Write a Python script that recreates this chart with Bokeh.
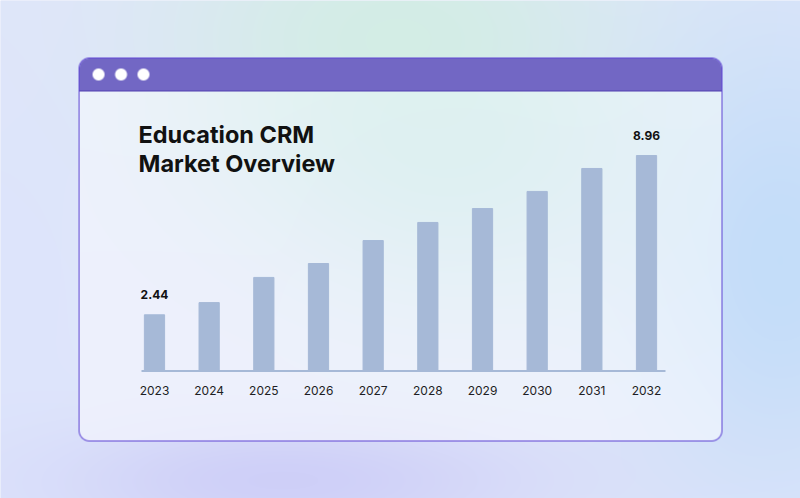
import numpy as np
from bokeh.plotting import figure
from bokeh.models import Range1d, FactorRange, Label
from bokeh.core.properties import value
from bokeh.embed import file_html
from bokeh.resources import INLINE

# ---------------- data ----------------
YEARS = ["2023", "2024", "2025", "2026", "2027", "2028", "2029", "2030", "2031", "2032"]
MARKET = [2.44, 2.94, 3.97, 4.54, 5.48, 6.22, 6.79, 7.49, 8.43, 8.96]
SHOWN = ["2023", "2032"]
SHOWN_VALUES = [2.44, 8.96]
TITLE_LINES = ["Education CRM", "Market Overview"]

# ---------------- canvas ----------------
W, H = 800, 498          # page margin removed; canvas fills the window
OX, OY = 0, 0

# ----- decorative background rendered as an RGBA image -----
xs = np.arange(W) + OX + 0.5
ys = np.arange(H) + OY + 0.5
X, Y = np.meshgrid(xs, ys)

def blob(cx, cyy, sx, sy):
    return np.exp(-(((X - cx) / sx) ** 2 + ((Y - cyy) / sy) ** 2) / 2)

def mix(img, col, w):
    w = np.clip(w, 0, 1)[..., None]
    return img * (1 - w) + np.array(col, dtype=float) * w

img = np.zeros((H, W, 3))
img[:] = (224, 230, 250)
img = mix(img, (210, 237, 228), 0.95 * blob(400, 40, 170, 110))
img = mix(img, (194, 220, 249), 0.95 * blob(780, 260, 110, 170))
img = mix(img, (203, 203, 247), 0.85 * blob(280, 480, 190, 45))
img = mix(img, (218, 226, 252), 0.5 * blob(0, 300, 90, 200))

def rr_sdf(x0, y0, x1, y1, r):
    cxx = (x0 + x1) / 2; cyy = (y0 + y1) / 2
    hx = (x1 - x0) / 2 - r; hy = (y1 - y0) / 2 - r
    qx = np.abs(X - cxx) - hx; qy = np.abs(Y - cyy) - hy
    outside = np.hypot(np.maximum(qx, 0), np.maximum(qy, 0))
    inside = np.minimum(np.maximum(qx, qy), 0)
    return outside + inside - r

d = rr_sdf(78, 57, 722, 441, 11)
cov = np.clip(0.5 - d, 0, 1)
inner = np.clip(0.5 - (d + 1), 0, 1)
border = cov - inner
tb = inner * (Y < 90)
tbline = inner * ((Y > 90) & (Y < 91))
body = inner * (Y > 91)

body_col = mix(img.copy(), (255, 255, 255), np.full(X.shape, 0.5))
body_col = mix(body_col, (212, 237, 237), 0.6 * blob(440, 150, 170, 120))
body_col = mix(body_col, (236, 238, 252), 0.5 * blob(150, 350, 150, 120))
img = img * (1 - body[..., None]) + body_col * body[..., None]
img = mix(img, (114, 103, 196), tb)
img = mix(img, (80, 62, 176), tbline)
img = mix(img, (96, 70, 212), border)

for dx in (98, 120.5, 143):
    dd = np.hypot(X - dx, Y - 74) - 6
    img = mix(img, (255, 255, 255), np.clip(0.5 - dd, 0, 1))

rgba = np.zeros((H, W, 4), dtype=np.uint8)
rgba[..., :3] = np.clip(np.round(img), 0, 255).astype(np.uint8)
rgba[..., 3] = 255
rgba_img = rgba.view(dtype=np.uint32).reshape((H, W))[::-1].copy()

# ---------------- scales ----------------
BAR_STEP = 54.67                   # pixels per category
SPAN_X = W / BAR_STEP
PAD = (SPAN_X - len(YEARS)) / 2
BASE = 0.14                        # value at the axis line
PXU = 24.43                        # pixels per unit
v_start = BASE - (H - (370.5 - OY)) / PXU
v_end = v_start + H / PXU

def sx(page_x):
    return -PAD + (page_x - OX) / BAR_STEP

def sy(page_y):
    return v_start + (H - (page_y - OY)) / PXU

p = figure(width=W, height=H,
           x_range=FactorRange(factors=YEARS, range_padding=PAD,
                               range_padding_units="absolute"),
           y_range=Range1d(v_start, v_end),
           x_axis_type=None, y_axis_type=None, toolbar_location=None,
           output_backend="svg", min_border=0, outline_line_color=None)
p.border_fill_color = "#e0e6fa"
p.background_fill_color = "#e0e6fa"
p.grid.visible = False

p.image_rgba(image=[rgba_img], x=-PAD, y=v_start, dw=SPAN_X, dh=v_end - v_start)

BAR = "#a6b9d7"
p.vbar(x=YEARS, top=MARKET, bottom=BASE, width=0.37, color=BAR)
p.segment(x0=[sx(141)], x1=[sx(665)], y0=[BASE], y1=[BASE],
          line_color=BAR, line_width=2)

p.text(x=YEARS, y=[sy(389.5)] * len(YEARS), text=YEARS,
       text_font=value("Inter"), text_font_size="12px", text_color="#1e1e24",
       text_align="center", text_baseline="alphabetic")

p.text(x=SHOWN, y=SHOWN_VALUES, text=[f"{v:.2f}" for v in SHOWN_VALUES],
       y_offset=-20,
       text_font=value("Inter"), text_font_size="12px", text_font_style="bold",
       text_color="#111111", text_align="center", text_baseline="alphabetic")

for line, py in zip(TITLE_LINES, (134, 163)):
    p.add_layout(Label(x=sx(138), y=sy(py), text=line, text_font="Inter",
                       text_font_size="23.5px", text_font_style="bold",
                       text_color="#111111", text_baseline="alphabetic"))

html = file_html(p, INLINE)
html = html.replace("<body>", '<body style="margin:0;background:#e0e6fa;overflow:hidden">', 1)
open("out.html", "w").write(html)
